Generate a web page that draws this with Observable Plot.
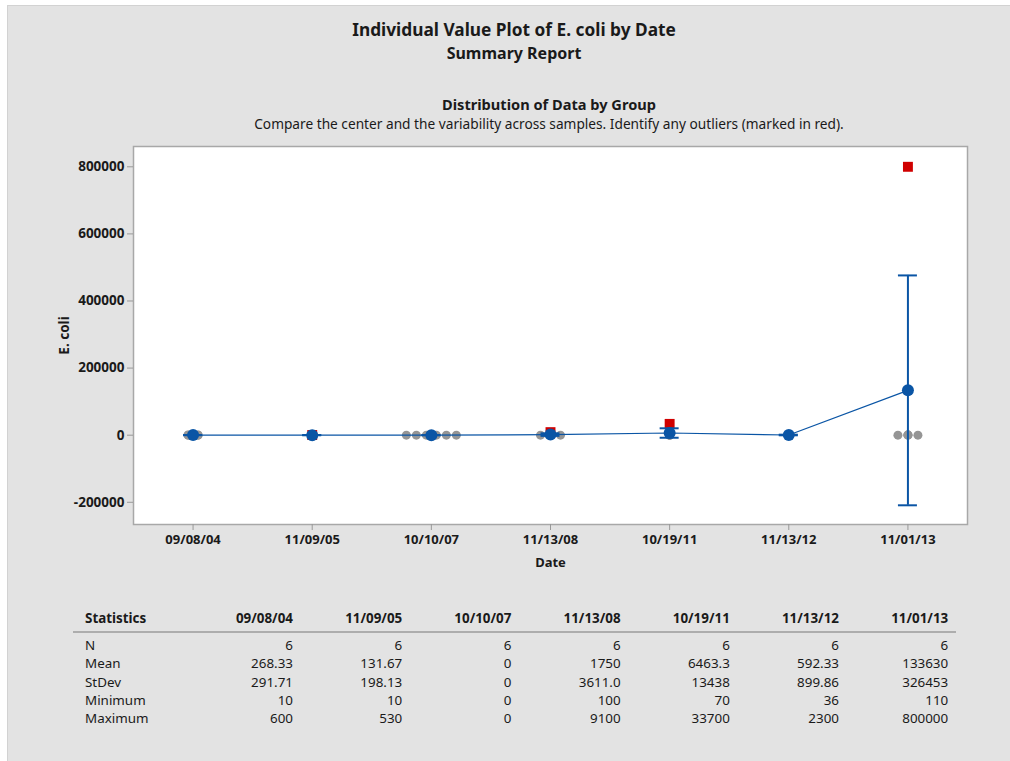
<!DOCTYPE html>
<html><head><meta charset="utf-8">
<script src="https://cdn.jsdelivr.net/npm/d3@7"></script>
<script src="https://cdn.jsdelivr.net/npm/@observablehq/plot@0.6"></script>
<style>
body{margin:0;background:#fff;font-family:"Noto Sans",sans-serif;color:#1a1a1a;}
#wrap{position:relative;width:1010px;height:761px;overflow:hidden;}
#panel{position:absolute;left:7px;top:5px;right:0;bottom:0;background:#e3e3e3;border-left:1px solid #d2d2d2;border-top:1px solid #d2d2d2;}
.c{position:absolute;text-align:center;white-space:nowrap;transform:translateX(-50%);line-height:18px;}
.cell{position:absolute;white-space:nowrap;line-height:18px;font-size:13.4px;}
#chart{position:absolute;left:0;top:136px;}
#rule{position:absolute;left:73px;width:883px;top:631px;height:2px;background:#adadad;}
</style></head>
<body><div id="wrap"><div id="panel"></div>
<div class="c" style="left:514px;top:21px;font-size:17.3px;font-weight:bold;">Individual Value Plot of E. coli by Date</div>
<div class="c" style="left:514px;top:43.5px;font-size:16px;font-weight:bold;">Summary Report</div>
<div class="c" style="left:549px;top:95px;font-size:14.6px;font-weight:bold;">Distribution of Data by Group</div>
<div class="c" style="left:549px;top:115px;font-size:13.7px;">Compare the center and the variability across samples. Identify any outliers (marked in red).</div>
<div id="chart"></div>
<div id="rule"></div>
<div id="table"></div>
</div>
<script>
const dates = ["09/08/04","11/09/05","10/10/07","11/13/08","10/19/11","11/13/12","11/01/13"];
const values0 = [10, 10, 20, 370, 600, 600];
const values1 = [10, 20, 50, 80, 100, 530];
const values2 = [0, 0, 0, 0, 0, 0];
const values3 = [100, 100, 100, 300, 800, 9100];
const values4 = [70, 100, 220, 500, 4190, 33700];
const values5 = [36, 40, 75, 200, 903, 2300];
const values6 = [110, 110, 110, 390, 1060, 800000];
const groups = [values0, values1, values2, values3, values4, values5, values6];

const statN = [6, 6, 6, 6, 6, 6, 6];
const statMean = [268.33, 131.67, 0, 1750, 6463.3, 592.33, 133630];
const statStDev = [291.71, 198.13, 0, 3611.0, 13438, 899.86, 326453];
const statMin = [10, 10, 0, 100, 70, 36, 110];
const statMax = [600, 530, 0, 9100, 33700, 2300, 800000];
const meanText = ["268.33","131.67","0","1750","6463.3","592.33","133630"];
const stdevText = ["291.71","198.13","0","3611.0","13438","899.86","326453"];
const yTicks = [-200000, 0, 200000, 400000, 600000, 800000];

const blue = "#0a55a5", red = "#d00000", grey = "#959595";
const stepPx = 834 / 7;

// Minitab-style quartiles for outlier detection
function quart(s, p) {
  const pos = (s.length + 1) * p;
  const lo = Math.floor(pos), f = pos - lo;
  if (lo < 1) return s[0];
  if (lo >= s.length) return s[s.length - 1];
  return s[lo - 1] + f * (s[lo] - s[lo - 1]);
}
const points = [];
groups.forEach((vals, i) => {
  const s = vals.slice().sort((a, b) => a - b);
  const q1 = quart(s, 0.25), q3 = quart(s, 0.75), iqr = q3 - q1;
  const counts = d3.rollup(vals, v => v.length, v => v);
  const seen = new Map();
  vals.forEach(v => {
    const k = counts.get(v), j = seen.get(v) || 0;
    seen.set(v, j + 1);
    const offPx = (j - (k - 1) / 2) * 10;
    points.push({date: dates[i], i, x: i + offPx / stepPx, value: v,
      outlier: v > q3 + 1.5 * iqr || v < q1 - 1.5 * iqr});
  });
});
const t975 = 2.5706;
const summary = dates.map((d, i) => {
  const h = t975 * statStDev[i] / Math.sqrt(statN[i]);
  return {date: d, i, mean: statMean[i], lo: statMean[i] - h, hi: statMean[i] + h};
});
const cap = 9.5 / stepPx;

const chart = Plot.plot({
  width: 1010, height: 440,
  marginLeft: 133, marginRight: 43, marginTop: 10, marginBottom: 52,
  style: {background: "transparent", fontFamily: "Noto Sans", fontSize: "13px", fontWeight: "bold", color: "#1a1a1a"},
  x: {domain: [-0.5, 6.5]},
  y: {domain: [-266200, 860500]},
  marks: [
    Plot.frame({fill: "white", stroke: "#a8a8a8", strokeWidth: 1.5}),
    Plot.axisY({ticks: yTicks, tickFormat: d => String(d), tickSize: 6, tickPadding: 3, stroke: "#999", fill: "#1a1a1a",
      label: "E. coli", labelAnchor: "center", labelOffset: 74, labelArrow: "none", fontSize: 13.5}),
    Plot.axisX({ticks: d3.range(7), tickFormat: i => dates[i], tickSize: 6, tickPadding: 4, stroke: "#999", fill: "#1a1a1a",
      label: "Date", labelAnchor: "center", labelOffset: 42, labelArrow: "none", fontSize: 13}),
    Plot.dot(points.filter(p => !p.outlier), {x: "x", y: "value", r: 4.5, fill: grey}),
    Plot.dot(points.filter(p => p.outlier), {x: "x", y: "value", r: 5.6, symbol: "square", fill: red}),
    Plot.line(summary, {x: "i", y: "mean", stroke: blue, strokeWidth: 1.2}),
    Plot.ruleX(summary, {x: "i", y1: "lo", y2: "hi", stroke: blue, strokeWidth: 2}),
    Plot.ruleY(summary, {y: "lo", x1: d => d.i - cap, x2: d => d.i + cap, stroke: blue, strokeWidth: 2}),
    Plot.ruleY(summary, {y: "hi", x1: d => d.i - cap, x2: d => d.i + cap, stroke: blue, strokeWidth: 2}),
    Plot.dot(summary, {x: "i", y: "mean", r: 6, fill: blue})
  ]
});
document.getElementById("chart").appendChild(chart);

// statistics table
const table = document.getElementById("table");
const rowLabels = ["N", "Mean", "StDev", "Minimum", "Maximum"];
const rowVals = [statN.map(String), meanText, stdevText, statMin.map(String), statMax.map(String)];
const rowY = [645, 663, 682, 700, 718];
function cell(text, x, y, right, bold) {
  const el = document.createElement("div");
  el.className = "cell";
  el.textContent = text;
  el.style.top = (y - 9) + "px";
  if (right) { el.style.right = (1010 - x) + "px"; } else { el.style.left = x + "px"; }
  if (bold) el.style.fontWeight = "bold";
  table.appendChild(el);
}
const colRight = dates.map((d, i) => 293 + i * 109.2);
cell("Statistics", 85, 618, false, true);
dates.forEach((d, i) => cell(d, colRight[i], 618, true, true));
rowLabels.forEach((lab, r) => {
  cell(lab, 85, rowY[r], false, false);
  rowVals[r].forEach((v, i) => cell(v, colRight[i], rowY[r], true, false));
});
</script>
</body></html>
